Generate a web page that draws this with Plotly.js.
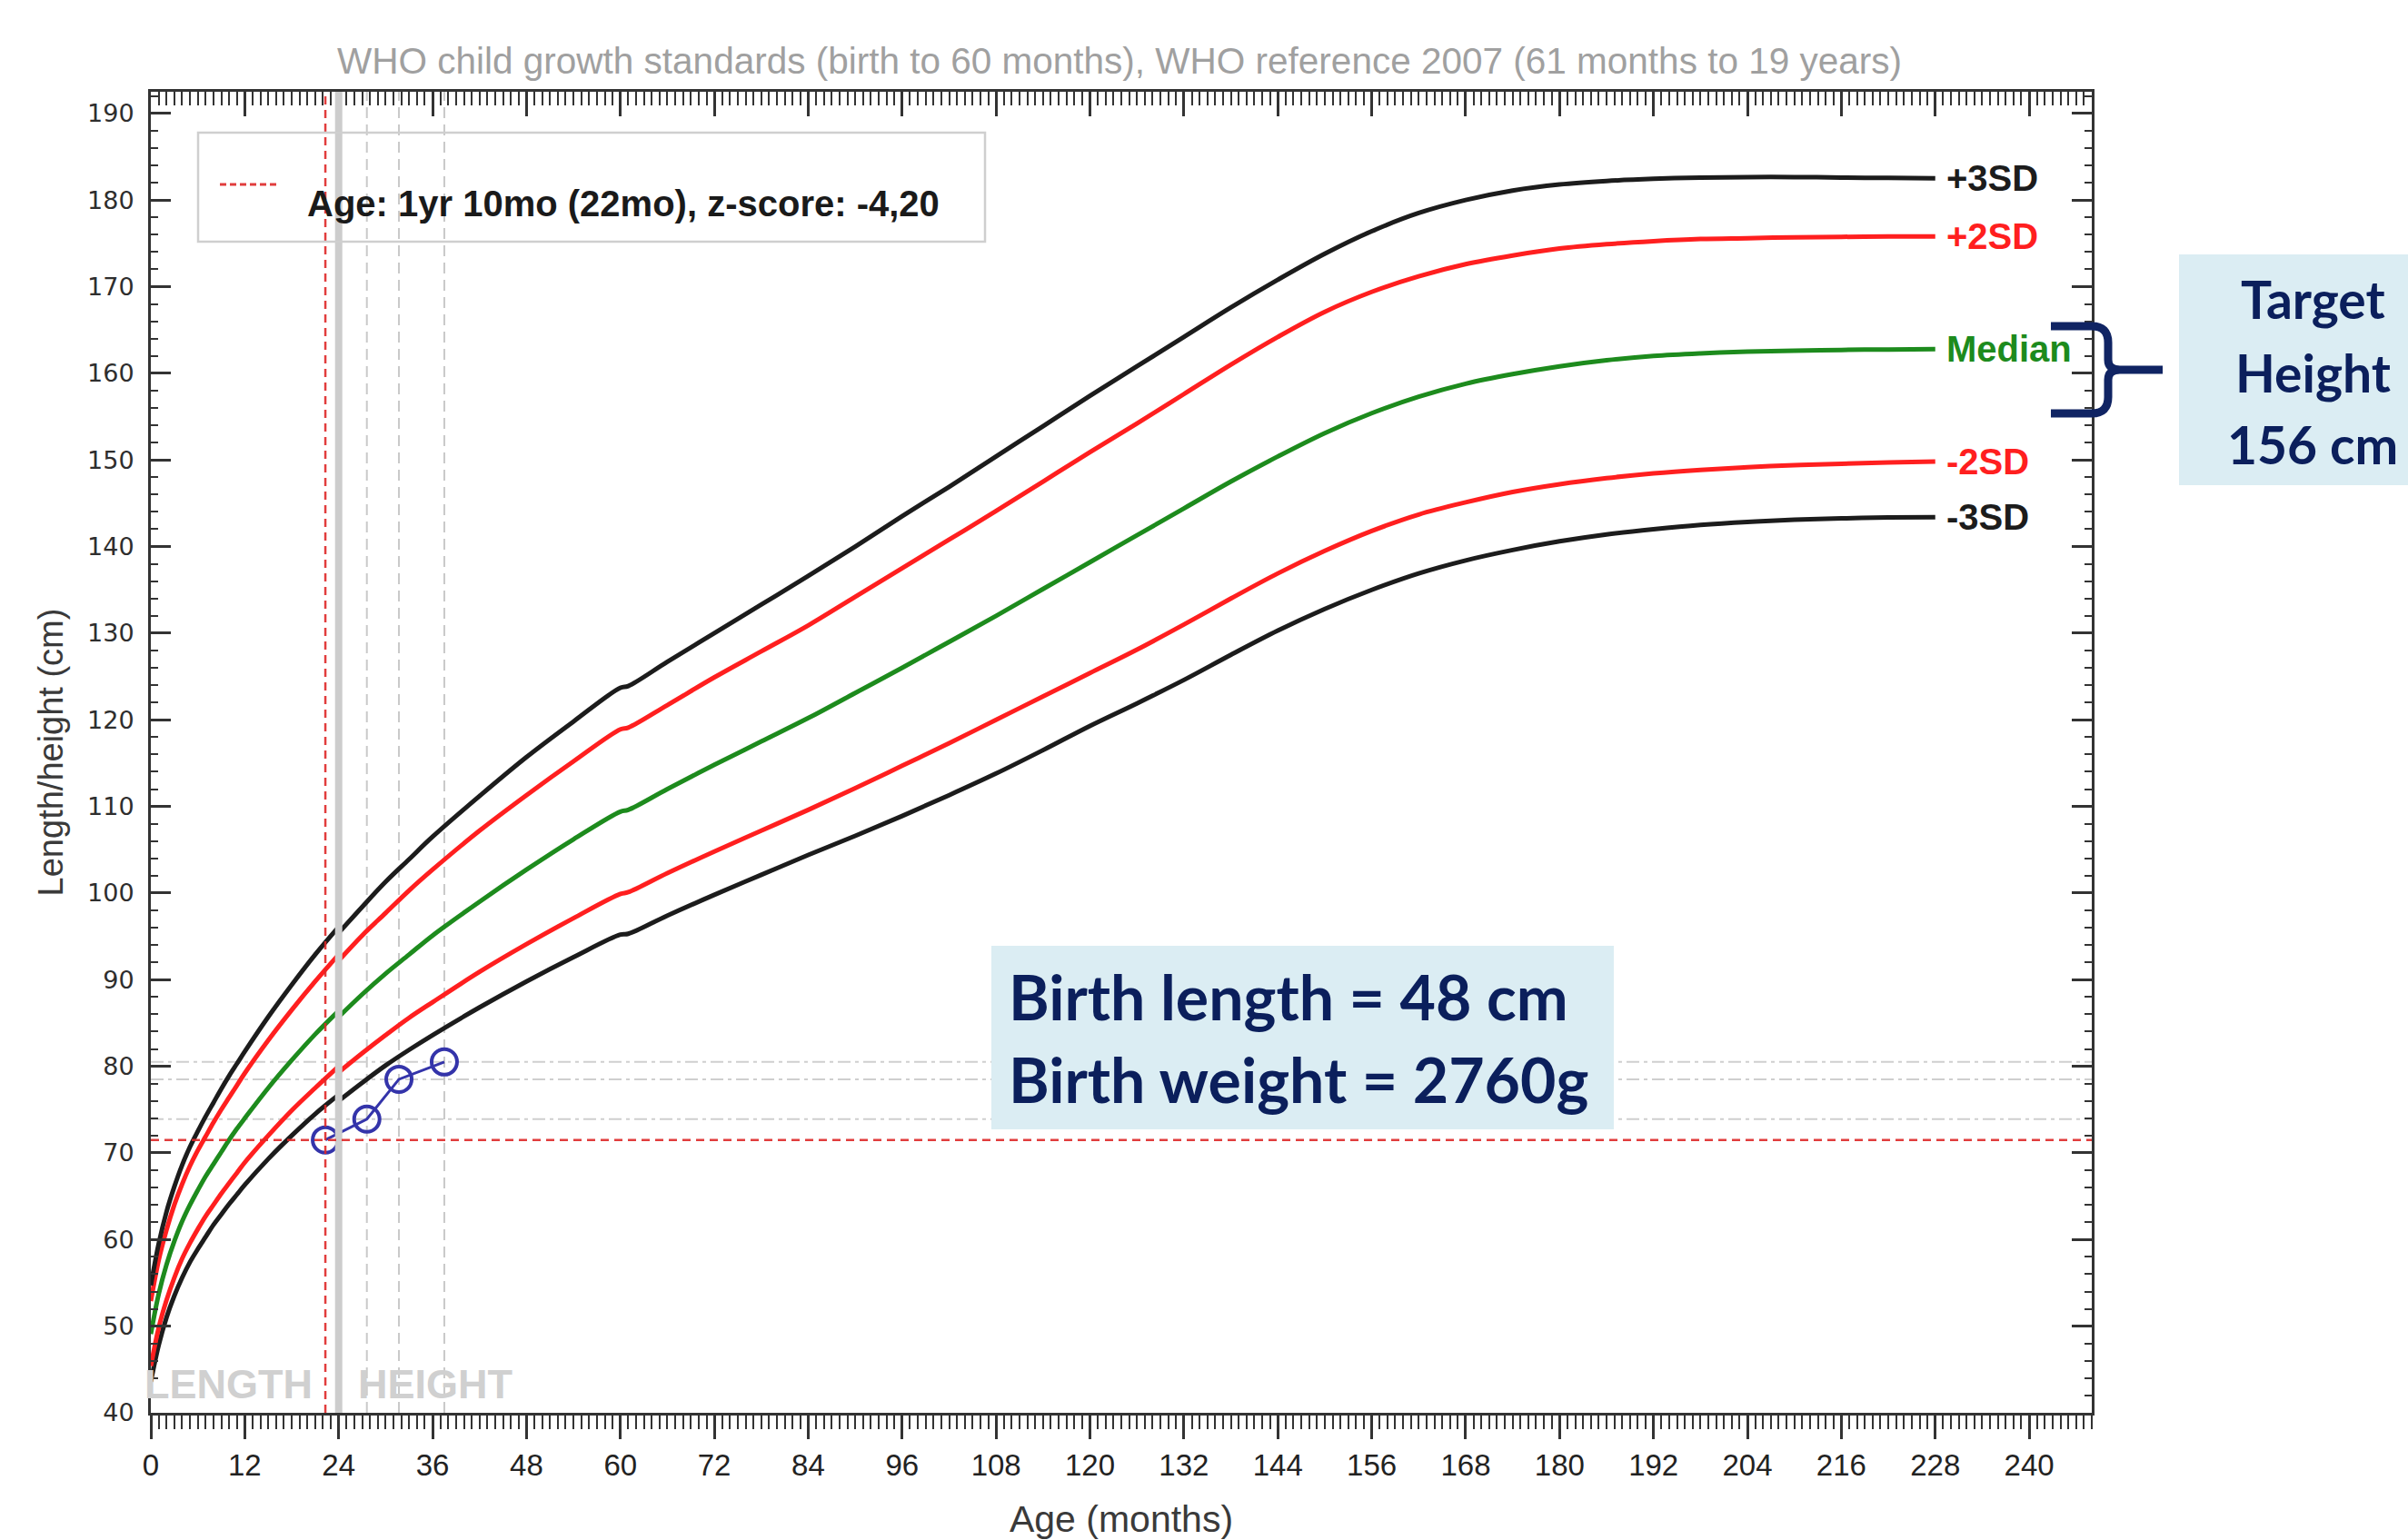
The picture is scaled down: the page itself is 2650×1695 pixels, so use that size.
<!DOCTYPE html>
<html>
<head>
<meta charset="utf-8">
<script src="https://cdn.plot.ly/plotly-3.0.1.min.js"></script>
<style>
  html, body { margin: 0; padding: 0; background: #ffffff; }
  #chart { width: 2650px; height: 1695px; }
</style>
</head>
<body>
<div id="chart"></div>
<script>
// ---------------- DATA ----------------
// WHO length-for-age (0-24 months, recumbent length)
const lenMonths = [0,1,2,3,4,5,6,7,8,9,10,11,12,15,18,21,24];
const lenM3 = [43.6,47.8,51.0,53.5,55.6,57.4,58.9,60.3,61.7,62.9,64.1,65.2,66.3,69.3,72.0,74.5,76.7];
const lenM2 = [45.4,49.8,53.0,55.6,57.8,59.6,61.2,62.7,64.0,65.3,66.5,67.7,68.9,72.0,74.9,77.5,80.0];
const lenMed = [49.1,53.7,57.1,59.8,62.1,64.0,65.7,67.3,68.7,70.1,71.5,72.8,74.0,77.5,80.7,83.7,86.4];
const lenP2 = [52.9,57.6,61.1,64.0,66.4,68.5,70.3,71.9,73.5,75.0,76.4,77.8,79.2,83.0,86.5,89.8,92.9];
const lenP3 = [54.7,59.5,63.2,66.1,68.6,70.7,72.5,74.2,75.8,77.4,78.9,80.3,81.7,85.7,89.4,92.9,96.1];

// WHO height-for-age (24-60 months, standing height)
const htMonths = [24,27,30,33,36,42,48,54,60];
const htM3 = [76.0,78.1,80.1,81.9,83.6,86.8,89.8,92.6,95.2];
const htM2 = [79.3,81.5,83.6,85.6,87.4,90.9,94.1,97.1,99.9];
const htMed = [85.7,88.3,90.7,92.9,95.1,99.0,102.7,106.2,109.4];
const htP2 = [92.2,95.1,97.7,100.3,102.7,107.2,111.3,115.2,118.9];
const htP3 = [95.4,98.4,101.3,103.9,106.5,111.2,115.7,119.8,123.7];

// WHO reference 2007 (61 months to 19 years)
const refMonths = [61,66,72,78,84,90,96,102,108,114,120,126,132,138,144,150,156,162,168,174,180,186,192,198,204,210,216,222,228];
const refM3 = [95.3,97.4,99.8,102.1,104.4,106.6,108.9,111.3,113.8,116.5,119.3,121.9,124.6,127.5,130.3,132.8,135.0,136.9,138.4,139.6,140.6,141.4,142.0,142.5,142.85,143.1,143.25,143.35,143.4];
const refM2 = [100.1,102.3,104.8,107.2,109.6,112.1,114.7,117.3,120.0,122.7,125.4,128.1,131.0,134.0,136.9,139.5,141.8,143.7,145.1,146.3,147.2,147.9,148.45,148.85,149.15,149.4,149.55,149.7,149.8];
const refMed = [109.6,112.0,114.8,117.5,120.2,123.1,126.0,129.0,132.0,135.1,138.2,141.3,144.4,147.5,150.4,153.1,155.4,157.3,158.8,159.9,160.8,161.5,162.0,162.3,162.5,162.6,162.7,162.75,162.8];
const refP2 = [119.1,121.7,124.9,127.9,130.9,134.2,137.5,140.8,144.1,147.5,150.9,154.2,157.6,161.0,164.2,167.1,169.4,171.2,172.6,173.6,174.4,174.9,175.25,175.5,175.6,175.7,175.75,175.8,175.8];
const refP3 = [123.9,126.7,130.0,133.3,136.6,140.0,143.5,146.9,150.4,153.9,157.4,160.8,164.2,167.6,170.8,173.8,176.4,178.5,180.0,181.1,181.8,182.2,182.45,182.6,182.65,182.65,182.6,182.55,182.5];

// Child's measurements
const ptMonths = [22.3, 27.6, 31.7, 37.5];
const ptHeight = [71.5, 73.9, 78.5, 80.5];

const curveNames = ['-3SD', '-2SD', 'Median', '+2SD', '+3SD'];
const switchMonth = 24;
const xTicks = [0,12,24,36,48,60,72,84,96,108,120,132,144,156,168,180,192,204,216,228,240];
const yTicks = [40,50,60,70,80,90,100,110,120,130,140,150,160,170,180,190];
const xRange = [0, 248];
const yRange = [40, 192.5];

// ---------------- BUILD ----------------
const W = 2650, H = 1695;
const M = {l: 166, r: 348, t: 101, b: 140};
const PW = W - M.l - M.r, PH = H - M.t - M.b;
const px = v => (v - M.l) / PW;          // pixel -> paper x
const py = v => (H - M.b - v) / PH;      // pixel -> paper y

// length segment is separated (gap) from the height segments
function join(a, b, c) { return a.concat([null], b, c); }
const allMonths = join(lenMonths, htMonths, refMonths);
const series = [
  join(lenM3, htM3, refM3),
  join(lenM2, htM2, refM2),
  join(lenMed, htMed, refMed),
  join(lenP2, htP2, refP2),
  join(lenP3, htP3, refP3)
];
const BLACK = '#1c1c1c', RED = '#ff1f1f', GREEN = '#1d8b1d';
const curveColors = [BLACK, RED, GREEN, RED, BLACK];
const lastVals = [refM3, refM2, refMed, refP2, refP3].map(a => a[a.length - 1]);
const lastMonth = refMonths[refMonths.length - 1];

const traces = series.map((ys, i) => ({
  type: 'scatter', mode: 'lines', name: curveNames[i],
  x: allMonths, y: ys, connectgaps: false,
  line: {color: curveColors[i], width: 5, shape: 'spline', smoothing: 1},
  hoverinfo: 'x+y+name', showlegend: false
}));

traces.push({
  type: 'scatter', mode: 'lines+markers', name: 'Child',
  x: ptMonths, y: ptHeight,
  line: {color: 'rgb(52,52,170)', width: 3},
  marker: {symbol: 'circle-open', size: 28, color: 'rgb(52,52,170)', line: {width: 4, color: 'rgb(52,52,170)'}},
  showlegend: false
});
// invisible trace to activate the top mirror axis
traces.push({type: 'scatter', mode: 'markers', x: [xRange[0]], y: [null], xaxis: 'x2', yaxis: 'y', showlegend: false, hoverinfo: 'skip'});

const shapes = [];
// gray dashed guides for later measurements
for (let i = 1; i < ptMonths.length; i++) {
  shapes.push({type: 'line', xref: 'x', yref: 'paper', x0: ptMonths[i], x1: ptMonths[i], y0: 0, y1: 1,
    line: {color: '#c9c9c9', width: 2, dash: '12px,7px'}, layer: 'below'});
  shapes.push({type: 'line', xref: 'paper', yref: 'y', x0: 0, x1: 1, y0: ptHeight[i], y1: ptHeight[i],
    line: {color: '#cfcfcf', width: 2, dash: '14px,5px,4px,5px'}, layer: 'below'});
}
// length / height switch line
shapes.push({type: 'line', xref: 'x', yref: 'paper', x0: switchMonth, x1: switchMonth, y0: 0, y1: 1,
  line: {color: '#cdcdcd', width: 8}, layer: 'above'});
// red current-point guides
shapes.push({type: 'line', xref: 'x', yref: 'paper', x0: ptMonths[0], x1: ptMonths[0], y0: 0, y1: 1,
  line: {color: 'rgba(222,40,40,0.9)', width: 2.5, dash: '9px,6px'}, layer: 'above'});
shapes.push({type: 'line', xref: 'paper', yref: 'y', x0: 0, x1: 1, y0: ptHeight[0], y1: ptHeight[0],
  line: {color: 'rgba(222,40,40,0.9)', width: 2.5, dash: '9px,6px'}, layer: 'above'});
// legend box
shapes.push({type: 'rect', xref: 'paper', yref: 'paper', x0: px(218), x1: px(1084), y0: py(266), y1: py(146),
  line: {color: '#cfcfcf', width: 2.5}, fillcolor: 'rgba(255,255,255,0)', layer: 'above'});
shapes.push({type: 'line', xref: 'paper', yref: 'paper', x0: px(242), x1: px(308), y0: py(203), y1: py(203),
  line: {color: 'rgba(222,40,40,0.9)', width: 3, dash: '7px,4px'}, layer: 'above'});
// info boxes
shapes.push({type: 'rect', xref: 'paper', yref: 'paper', x0: px(1091), x1: px(1776), y0: py(1243), y1: py(1041),
  line: {width: 0}, fillcolor: '#dbedf3', layer: 'above'});
shapes.push({type: 'rect', xref: 'paper', yref: 'paper', x0: px(2398), x1: px(2660), y0: py(534), y1: py(280),
  line: {width: 0}, fillcolor: '#dbedf3', layer: 'above'});
// curly brace
function P(x, y) { return px(x).toFixed(5) + ',' + py(y).toFixed(5); }
const bracePath =
  'M' + P(2257, 359) + ' L' + P(2302, 359) + ' Q' + P(2320, 359) + ' ' + P(2320, 377) +
  ' L' + P(2320, 396) + ' Q' + P(2320, 407) + ' ' + P(2333, 407) + ' L' + P(2380, 407) +
  ' M' + P(2333, 407) + ' Q' + P(2320, 407) + ' ' + P(2320, 418) + ' L' + P(2320, 437) +
  ' Q' + P(2320, 455) + ' ' + P(2302, 455) + ' L' + P(2257, 455);
shapes.push({type: 'path', xref: 'paper', yref: 'paper', path: bracePath,
  line: {color: '#102463', width: 9}, layer: 'above'});

const annotations = [];
curveNames.forEach((n, i) => {
  annotations.push({x: lastMonth, y: lastVals[i], xref: 'x', yref: 'y', text: n, showarrow: false,
    xanchor: 'left', yanchor: 'middle', xshift: 10,
    font: {family: 'Liberation Sans, Arial, sans-serif', size: 40, weight: 'bold', color: curveColors[i]}});
});
annotations.push({x: switchMonth - 3.1, y: 43.3, xref: 'x', yref: 'y', text: 'LENGTH', showarrow: false,
  xanchor: 'right', yanchor: 'middle', font: {family: 'Liberation Sans, Arial, sans-serif', size: 45, weight: 'bold', color: '#d0d0d0'}});
annotations.push({x: switchMonth + 2.2, y: 43.3, xref: 'x', yref: 'y', text: 'HEIGHT', showarrow: false,
  xanchor: 'left', yanchor: 'middle', font: {family: 'Liberation Sans, Arial, sans-serif', size: 45, weight: 'bold', color: '#d0d0d0'}});
annotations.push({x: px(336), y: py(224), xref: 'paper', yref: 'paper', text: 'Age: 1yr 10mo (22mo), z-score: -4,20',
  showarrow: false, xanchor: 'left', yanchor: 'middle',
  font: {family: 'Liberation Sans, Arial, sans-serif', size: 40, weight: 'bold', color: '#1a1a1a'}});
const NAVY = '#0b1f5c';
const lato = 'Lato, "Open Sans", sans-serif';
annotations.push({x: px(1108), y: py(1096), xref: 'paper', yref: 'paper', text: 'Birth length = 48 cm',
  showarrow: false, xanchor: 'left', yanchor: 'middle', font: {family: lato, size: 68, weight: 'bold', color: NAVY}});
annotations.push({x: px(1108), y: py(1187), xref: 'paper', yref: 'paper', text: 'Birth weight = 2760g',
  showarrow: false, xanchor: 'left', yanchor: 'middle', font: {family: lato, size: 68, weight: 'bold', color: NAVY}});
[['Target', 329], ['Height', 410], ['156 cm', 489]].forEach(([t, y]) => {
  annotations.push({x: px(2545), y: py(y), xref: 'paper', yref: 'paper', text: t, showarrow: false,
    xanchor: 'center', yanchor: 'middle', font: {family: lato, size: 57, weight: 'bold', color: NAVY}});
});

const axisLine = {showline: true, linecolor: '#333333', linewidth: 3, zeroline: false, showgrid: false};
const layout = {
  width: W, height: H,
  margin: M,
  paper_bgcolor: '#ffffff', plot_bgcolor: '#ffffff',
  showlegend: false,
  title: {text: 'WHO child growth standards (birth to 60 months), WHO reference 2007 (61 months to 19 years)',
    x: px(1232), xref: 'paper', xanchor: 'center', y: 1 - 67 / H, yref: 'container', yanchor: 'middle',
    font: {family: 'Liberation Sans, Arial, sans-serif', size: 40.5, color: '#a0a0a0'}},
  xaxis: Object.assign({}, axisLine, {
    range: xRange, tickvals: xTicks, ticktext: xTicks.map(String),
    ticks: 'outside', ticklen: 26, tickwidth: 2.5, tickcolor: '#333333',
    minor: {dtick: 1, tick0: 0, ticks: 'outside', ticklen: 15, tickwidth: 2, tickcolor: '#333333', showgrid: false},
    tickfont: {family: 'Liberation Sans, Arial, sans-serif', size: 33, color: '#222222'},
    title: {text: 'Age (months)', standoff: 38, font: {family: 'Liberation Sans, Arial, sans-serif', size: 41, color: '#3a3a3a'}},
    mirror: false, automargin: false
  }),
  xaxis2: Object.assign({}, axisLine, {
    overlaying: 'x', side: 'top', anchor: 'y', range: xRange, tickvals: xTicks,
    ticks: 'inside', ticklen: 27, tickwidth: 2.5, tickcolor: '#333333', showticklabels: false,
    minor: {dtick: 1, tick0: 0, ticks: 'inside', ticklen: 15, tickwidth: 2, tickcolor: '#333333', showgrid: false},
    automargin: false
  }),
  yaxis: Object.assign({}, axisLine, {
    range: yRange, tickvals: yTicks, ticktext: yTicks.map(String),
    ticks: 'inside', ticklen: 22, tickwidth: 2.5, tickcolor: '#333333',
    minor: {dtick: 2, tick0: 40, ticks: 'inside', ticklen: 8, tickwidth: 2, tickcolor: '#333333', showgrid: false},
    tickfont: {family: '"DejaVu Sans", Verdana, sans-serif', size: 27, color: '#2e2e2e'},
    ticklabelstandoff: 10,
    title: {text: 'Length/height (cm)', standoff: 15, font: {family: 'Liberation Sans, Arial, sans-serif', size: 38, color: '#3a3a3a'}},
    mirror: 'ticks', automargin: false
  }),
  shapes: shapes,
  annotations: annotations
};

Plotly.newPlot('chart', traces, layout, {displayModeBar: false, responsive: false});
</script>
</body>
</html>
